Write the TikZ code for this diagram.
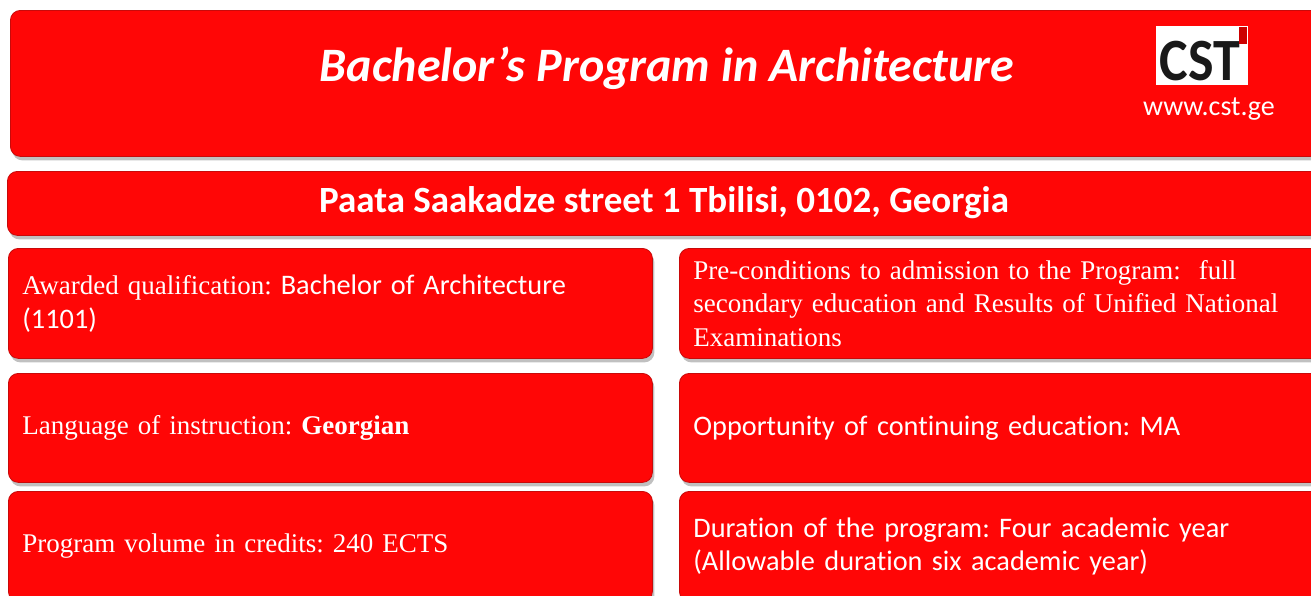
\documentclass[tikz,border=0pt]{standalone}
\usepackage{fontspec}
\usetikzlibrary{shadows}
\newfontfamily\calfont[Ligatures=NoCommon]{Carlito}
\newfontfamily\serfont{Liberation Serif}
\definecolor{boxred}{RGB}{255,6,6}
\definecolor{edgered}{RGB}{200,10,10}
\tikzset{
  redbox/.style={draw=edgered, line width=0.8pt, fill=boxred, rounded corners=10pt,
    drop shadow={shadow xshift=2pt, shadow yshift=-4pt, opacity=0.35, fill=black!70},
    anchor=north west, inner xsep=14pt, inner ysep=0pt, align=left, text=white,
    font=\frenchspacing\fontsize{27}{33.5}\selectfont},
  sansbody/.style={font=\frenchspacing\calfont\fontsize{28.3}{33.5}\selectfont},
  cellL/.style={redbox, text width=616pt, minimum height=110pt},
  cellR/.style={redbox, text width=620pt, minimum height=110pt},
}
\begin{document}
\begin{tikzpicture}[x=1pt,y=-1pt]
\clip (0,0) rectangle (1311,595);
\fill[white] (0,0) rectangle (1311,595);
% header
\node[redbox, minimum width=1310pt, minimum height=146pt, text width=1282pt] (head) at (10,10) {};
\node[text=white, font=\calfont\bfseries\itshape\fontsize{48}{56}\selectfont] (title) at (667,68) {Bachelor’s Program in Architecture};
\node[fill=white, minimum width=92pt, minimum height=59pt, inner sep=0pt, anchor=north west] (logo) at (1156,26) {};
\node[text=black!90, font=\calfont\bfseries\fontsize{60}{60}\selectfont, inner sep=0pt, text depth=0pt, anchor=base] (logotext) at (1200,80) {\scalebox{0.9}[1]{CST}};
\fill[red!80!black] (1239,27) rectangle (1247,44);
\node[text=white, font=\calfont\fontsize{28}{32}\selectfont, inner sep=0pt] (web) at (1209,109) {www.cst.ge};
% address
\node[redbox, minimum width=1313pt, minimum height=64pt, text width=1285pt] (addr) at (7,171) {};
\node[text=white, font=\calfont\bfseries\fontsize{37}{42}\selectfont] (addrtext) at (664,203) {Paata Saakadze street 1 Tbilisi, 0102, Georgia};
% left column
\node[cellL, minimum height=110pt] (l1) at (8,248) {\serfont Awarded qualification: {\calfont\fontsize{28.3}{33.5}\selectfont Bachelor of Architecture\\(1101)}};
\node[cellL, minimum height=109pt] (l2) at (8,373) {\serfont Language of instruction: \textbf{Georgian}};
\node[cellL, minimum height=110pt] (l3) at (8,491) {\serfont Program volume in credits: 240 ECTS};
% right column
\node[cellR, minimum height=110pt] (r1) at (679,248) {\serfont Pre-conditions to admission to the Program:~ full\\secondary education and Results of Unified National\\Examinations};
\node[cellR, sansbody, minimum height=109pt] (r2) at (679,373) {Opportunity of continuing education: MA};
\node[cellR, sansbody, minimum height=110pt] (r3) at (679,491) {Duration of the program: Four academic year\\(Allowable duration six academic year)};
\end{tikzpicture}
\end{document}
